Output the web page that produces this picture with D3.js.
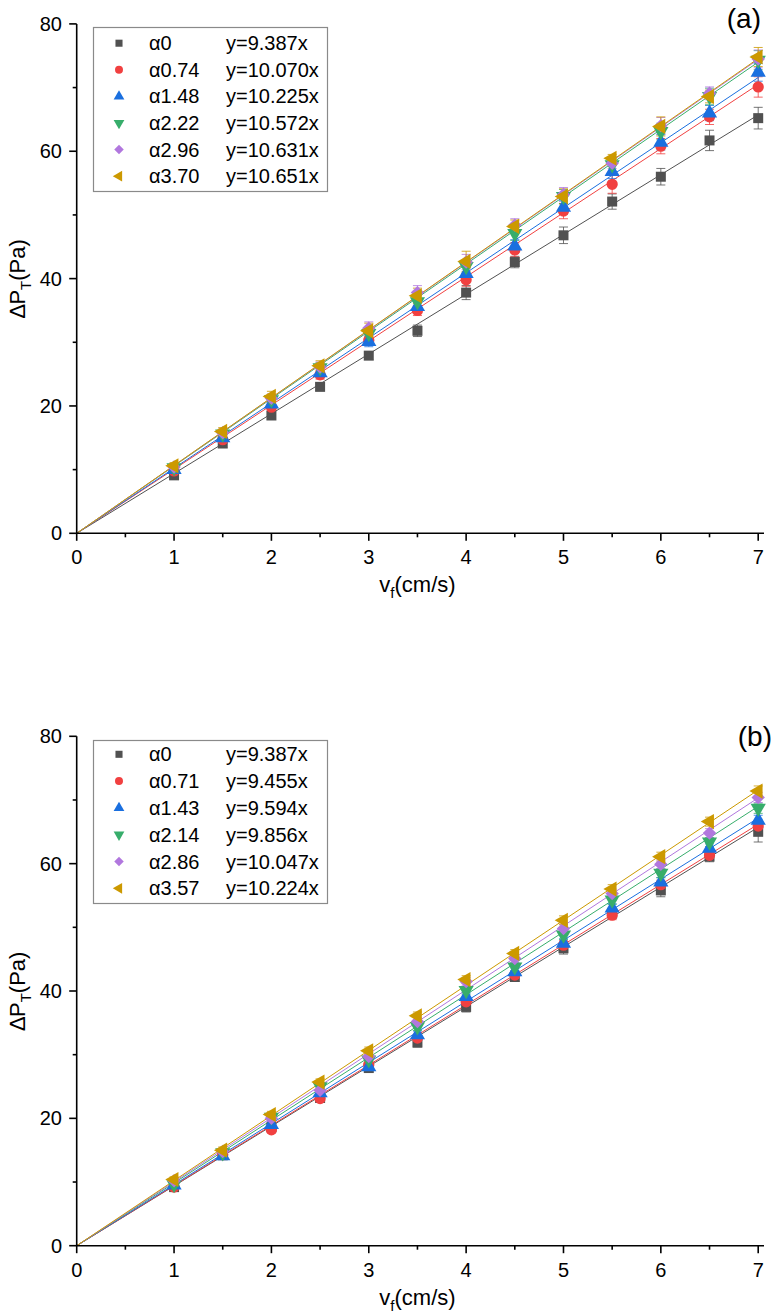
<!DOCTYPE html>
<html><head><meta charset="utf-8">
<script src="https://cdn.jsdelivr.net/npm/d3@7"></script>
<style>body{margin:0;background:#fff}svg{display:block}text{font-family:"Liberation Sans",Arial,sans-serif;fill:#000}</style>
</head><body><svg id="c" width="778" height="1313"></svg>
<script>
const xs = [1,1.5,2,2.5,3,3.5,4,4.5,5,5.5,6,6.5,7];
const xTicks = [0,1,2,3,4,5,6,7];
const yTicks = [0,20,40,60,80];
const colors = ["#515151","#F14040","#1A6FDF","#37AD6B","#B177DE","#CC9900"];
const shapes = ["square","circle","up","down","diamond","left"];

// Panel (a)
const aLabels = ["α0","α0.74","α1.48","α2.22","α2.96","α3.70"];
const aFits = [9.387,10.070,10.225,10.572,10.631,10.651];
const aFitText = ["y=9.387x","y=10.070x","y=10.225x","y=10.572x","y=10.631x","y=10.651x"];
const aGray   = [9.1,14.1,18.5,23.0,27.9,31.8,37.8,42.6,46.8,52.1,56.0,61.7,65.2];
const aRed    = [9.8,14.7,19.8,24.9,30.3,35.0,39.8,44.5,50.6,54.8,60.8,65.4,70.1];
const aBlue   = [10.0,15.0,20.3,25.2,30.1,35.6,40.8,45.1,51.2,56.8,61.4,66.0,72.4];
const aGreen  = [10.3,15.6,21.0,26.0,31.4,36.4,41.9,47.1,52.9,57.9,63.1,68.6,74.3];
const aPurple = [10.4,15.8,21.2,26.1,32.2,37.8,42.6,48.4,53.2,58.1,64.0,69.1,74.5];
const aGold   = [10.6,16.0,21.5,26.3,31.8,37.3,42.7,48.2,52.9,58.9,63.9,68.6,74.8];
const aErrGray   = [0.5,0.6,0.6,0.6,0.6,0.9,1.1,0.9,1.3,1.2,1.3,1.6,1.7];
const aErrRed    = [0.5,0.6,0.7,0.7,0.8,0.8,1.0,1.1,1.2,1.4,1.2,1.2,1.6];
const aErrBlue   = [0.5,0.6,0.7,0.8,0.8,0.9,1.0,1.0,1.1,1.1,1.2,1.2,1.4];
const aErrGreen  = [0.5,0.6,0.7,0.8,0.9,0.9,1.0,1.1,1.1,1.2,1.3,1.3,1.5];
const aErrPurple = [0.5,0.6,0.7,0.8,1.0,1.1,1.2,1.0,1.1,0.8,1.3,1.0,1.4];
const aErrGold   = [0.5,0.6,0.8,0.8,1.2,1.2,1.6,1.0,1.2,0.6,1.5,1.0,1.5];

// Panel (b)
const bLabels = ["α0","α0.71","α1.43","α2.14","α2.86","α3.57"];
const bFits = [9.387,9.455,9.594,9.856,10.047,10.224];
const bFitText = ["y=9.387x","y=9.455x","y=9.594x","y=9.856x","y=10.047x","y=10.224x"];
const bGray   = [9.2,14.2,18.6,23.2,27.9,31.9,37.5,42.2,46.7,52.2,55.8,61.1,65.0];
const bRed    = [9.2,14.3,18.2,23.1,28.4,32.6,38.3,42.5,47.2,51.9,56.7,61.3,65.9];
const bBlue   = [9.5,14.1,19.0,24.0,28.1,33.1,39.1,43.0,47.5,53.0,57.1,62.4,66.8];
const bGreen  = [9.6,14.6,20.2,25.0,29.2,34.4,40.1,43.8,48.8,54.3,58.5,63.4,68.7];
const bPurple = [10.2,14.8,20.0,24.4,29.7,35.2,41.5,45.1,49.8,55.3,59.9,64.8,70.4];
const bGold   = [10.4,15.0,20.6,25.7,30.6,36.1,41.8,45.9,51.1,56.0,61.1,66.6,71.4];
const bErrGray   = [0.5,0.5,0.6,0.6,0.6,0.7,0.8,0.7,0.9,0.8,1.0,0.8,1.6];
const bErrRed    = [0.4,0.5,0.5,0.5,0.6,0.6,0.6,0.6,0.7,0.7,0.7,0.7,0.8];
const bErrBlue   = [0.4,0.5,0.5,0.5,0.6,0.6,0.6,0.6,0.7,0.7,0.7,0.7,0.8];
const bErrGreen  = [0.4,0.5,0.5,0.5,0.6,0.6,0.6,0.6,0.7,0.7,0.7,0.7,0.8];
const bErrPurple = [0.4,0.5,0.5,0.5,0.6,0.6,0.6,0.6,0.7,0.7,0.7,0.7,0.8];
const bErrGold   = [0.4,0.5,0.5,0.5,0.6,0.6,0.6,0.6,0.7,0.7,0.7,0.7,0.8];

const svg = d3.select("#c");

function symbolPath(shape, big){
  const s = big ? 1 : 0.5;
  let t, area, rot = 0;
  switch(shape){
    case "square": t=d3.symbolSquare; area=100; break;
    case "circle": t=d3.symbolCircle; area=100; break;
    case "up": t=d3.symbolTriangle; area=100; break;
    case "down": t=d3.symbolTriangle; area=100; rot=180; break;
    case "diamond": t=d3.symbolSquare; area=90; rot=45; break;
    case "left": t=d3.symbolTriangle; area=100; rot=-90; break;
  }
  return {d: d3.symbol().type(t).size(area*s)(), rot};
}

function panel(cfg){
  const g = svg.append("g");
  const x = d3.scaleLinear().domain([0,7]).range([76.7,758.2]);
  const y = d3.scaleLinear().domain([0,80]).range([cfg.y0, cfg.y0-509.4]);

  cfg.fits.forEach((k,i)=>{
    g.append("line").attr("x1",x(0)).attr("y1",y(0)).attr("x2",x(7)).attr("y2",y(k*7))
      .attr("stroke",colors[i]).attr("stroke-width",1);
  });
  cfg.series.forEach((vals,i)=>{
    const errs = cfg.errs[i];
    const sg = g.append("g");
    xs.forEach((xv,j)=>{
      const cx = x(xv), top = y(vals[j]+errs[j]), bot = y(vals[j]-errs[j]);
      sg.append("path").attr("d",`M${cx},${top}V${bot}M${cx-4.5},${top}H${cx+4.5}M${cx-4.5},${bot}H${cx+4.5}`)
        .attr("stroke",colors[i]).attr("stroke-opacity",0.8).attr("stroke-width",1).attr("fill","none");
    });
  });
  cfg.series.forEach((vals,i)=>{
    const sp = symbolPath(shapes[i], true);
    g.append("g").selectAll("path").data(xs).join("path")
      .attr("d",sp.d)
      .attr("transform",(xv,j)=>`translate(${x(xv)},${y(vals[j])}) rotate(${sp.rot})`)
      .attr("fill",colors[i]);
  });

  const ax = g.append("g").attr("stroke","#000").attr("stroke-width",1.6).attr("fill","none");
  ax.append("line").attr("x1",x(0)).attr("x2",764).attr("y1",y(0)).attr("y2",y(0));
  ax.append("line").attr("x1",x(0)).attr("x2",x(0)).attr("y1",y(0)).attr("y2",y(80));
  d3.range(0,7.01,0.5).forEach(v=>{
    const major = Math.abs(v-Math.round(v))<1e-6;
    ax.append("line").attr("x1",x(v)).attr("x2",x(v)).attr("y1",y(0)).attr("y2",y(0)+(major?7.5:4));
  });
  d3.range(0,80.01,10).forEach(v=>{
    const major = v%20===0;
    ax.append("line").attr("x1",x(0)).attr("x2",x(0)-(major?7.5:4)).attr("y1",y(v)).attr("y2",y(v));
  });
  xTicks.forEach(v=>{
    g.append("text").attr("x",x(v)).attr("y",y(0)+31).attr("text-anchor","middle")
      .attr("font-size",20).text(v);
  });
  yTicks.forEach(v=>{
    g.append("text").attr("x",62).attr("y",y(v)+7).attr("text-anchor","end")
      .attr("font-size",20).text(v);
  });
  const xt = g.append("text").attr("x",x(3.5)).attr("y",y(0)+59).attr("text-anchor","middle").attr("font-size",22);
  xt.append("tspan").text("v");
  xt.append("tspan").attr("font-size",15).attr("dy",6).text("f");
  xt.append("tspan").attr("dy",-6).text("(cm/s)");
  const yt = g.append("text").attr("transform",`translate(25,${y(40)}) rotate(-90)`).attr("text-anchor","middle").attr("font-size",22);
  yt.append("tspan").text("∆P");
  yt.append("tspan").attr("font-size",15).attr("dy",6).text("T");
  yt.append("tspan").attr("dy",-6).text("(Pa)");
  g.append("text").attr("x",cfg.labX).attr("y",cfg.labY).attr("text-anchor","end").attr("font-size",28).text(cfg.tag);

  const lg = g.append("g");
  lg.append("rect").attr("x",93.5).attr("y",cfg.legTop+0.5).attr("width",234).attr("height",cfg.legH)
    .attr("fill","#fff").attr("stroke","#8a8a8a").attr("stroke-width",1.2);
  cfg.labels.forEach((lab,i)=>{
    const cy = cfg.legRow0 + i*cfg.legStep;
    const sp = symbolPath(shapes[i], false);
    lg.append("path").attr("d",sp.d).attr("transform",`translate(119,${cy}) rotate(${sp.rot})`).attr("fill",colors[i]);
    lg.append("text").attr("x",149).attr("y",cy+7).attr("font-size",20).text(lab);
    lg.append("text").attr("x",226).attr("y",cy+7).attr("font-size",20).text(cfg.fitText[i]);
  });
}

panel({y0:533.3, fits:aFits, series:[aGray,aRed,aBlue,aGreen,aPurple,aGold],
  errs:[aErrGray,aErrRed,aErrBlue,aErrGreen,aErrPurple,aErrGold],
  labels:aLabels, fitText:aFitText, tag:"(a)", labX:761, labY:27.5,
  legTop:27, legH:164, legRow0:43.2, legStep:26.6});
panel({y0:1245.7, fits:bFits, series:[bGray,bRed,bBlue,bGreen,bPurple,bGold],
  errs:[bErrGray,bErrRed,bErrBlue,bErrGreen,bErrPurple,bErrGold],
  labels:bLabels, fitText:bFitText, tag:"(b)", labX:772, labY:746,
  legTop:740, legH:163, legRow0:754.3, legStep:26.8});
</script></body></html>
